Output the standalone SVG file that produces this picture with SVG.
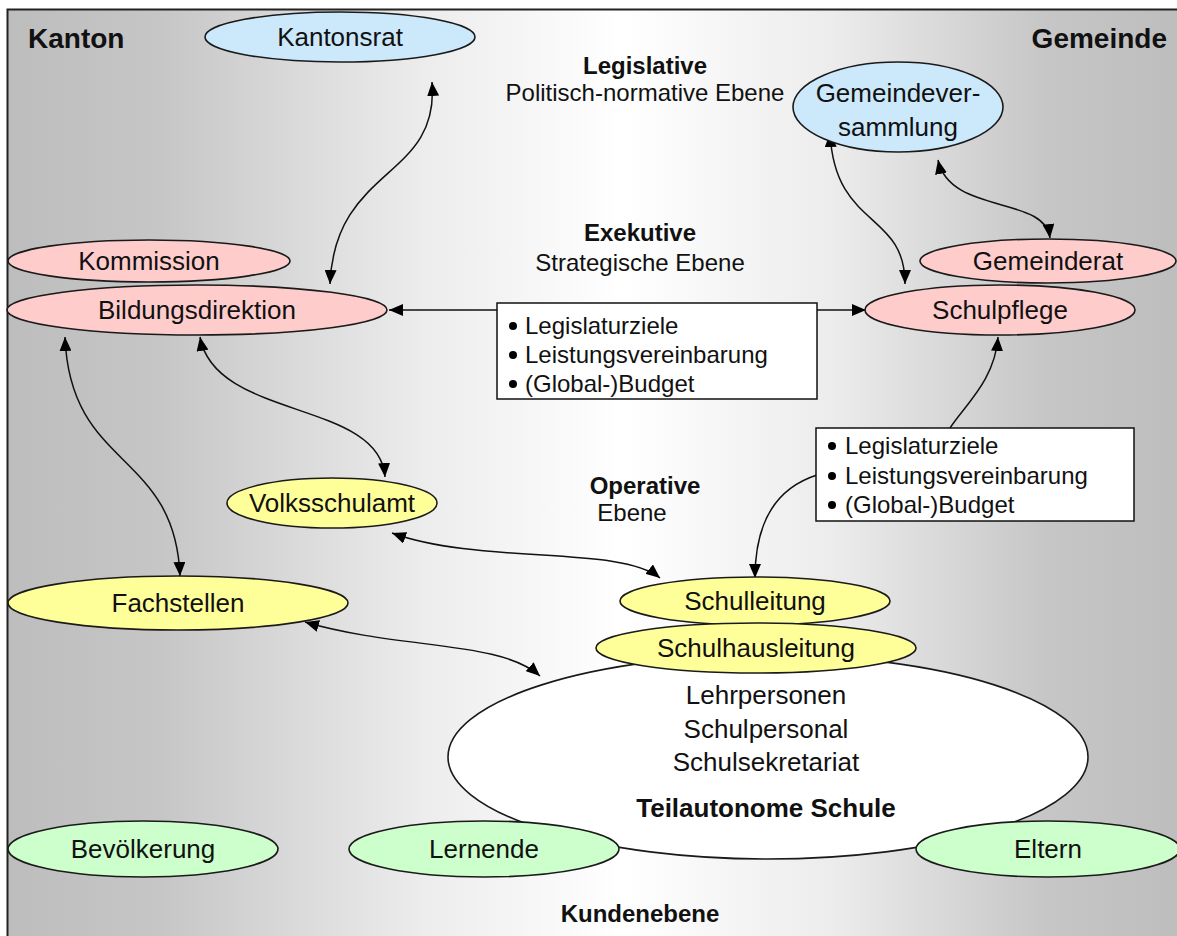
<svg xmlns="http://www.w3.org/2000/svg" width="1177" height="936" viewBox="0 0 1177 936">
<defs>
<linearGradient id="bg" x1="0" y1="0" x2="1" y2="0">
<stop offset="0" stop-color="#bdbdbd"/>
<stop offset="0.13" stop-color="#c6c6c6"/>
<stop offset="0.35" stop-color="#ececec"/>
<stop offset="0.52" stop-color="#ffffff"/>
<stop offset="0.7" stop-color="#ececec"/>
<stop offset="0.88" stop-color="#c6c6c6"/>
<stop offset="1" stop-color="#bdbdbd"/>
</linearGradient>
<marker id="ah" viewBox="0 0 14 12" refX="14" refY="6" markerWidth="14" markerHeight="12" markerUnits="userSpaceOnUse" orient="auto-start-reverse">
<path d="M0,0 L14,6 L0,12 z" fill="#000"/>
</marker>
<style>
.n{stroke:#1a1a1a;stroke-width:1.6}
.blue{fill:#cce8fb}
.pink{fill:#ffcccc}
.yel{fill:#ffff99}
.grn{fill:#ccffcc}
.wht{fill:#ffffff}
.t{font-family:"Liberation Sans",Arial,sans-serif;font-size:26px;fill:#111;text-anchor:middle;dominant-baseline:central}
.lv{font-family:"Liberation Sans",Arial,sans-serif;font-size:24px;fill:#111;text-anchor:middle;dominant-baseline:central}
.b{font-weight:bold}
.big{font-family:"Liberation Sans",Arial,sans-serif;font-size:28px;font-weight:bold;fill:#111;dominant-baseline:central}
.bl{font-family:"Liberation Sans",Arial,sans-serif;font-size:24px;fill:#111;dominant-baseline:central}
.c{fill:none;stroke:#111;stroke-width:1.5}
.box{fill:#fff;stroke:#111;stroke-width:1.5}
</style>
</defs>
<rect x="7.5" y="9.5" width="1180" height="940" fill="url(#bg)" stroke="#222" stroke-width="2"/>
<text class="big" x="28" y="38">Kanton</text>
<text class="big" x="1167" y="38" text-anchor="end">Gemeinde</text>
<text class="lv b" x="645" y="65">Legislative</text>
<text class="lv" x="645" y="92">Politisch-normative Ebene</text>
<text class="lv b" x="640" y="232">Exekutive</text>
<text class="lv" x="640" y="262">Strategische Ebene</text>
<text class="lv b" x="645" y="485">Operative</text>
<text class="lv" x="632" y="512">Ebene</text>
<text class="lv b" x="640" y="913">Kundenebene</text>

<g id="connectors">
<path class="c" d="M432,82 C440,180 335,165 330,284" marker-start="url(#ah)" marker-end="url(#ah)"/>
<path class="c" d="M830,133 C835,230 905,210 905,284" marker-start="url(#ah)" marker-end="url(#ah)"/>
<path class="c" d="M938,160 C950,215 1045,195 1050,238" marker-start="url(#ah)" marker-end="url(#ah)"/>
<path class="c" d="M200,337 C215,420 380,400 385,477" marker-start="url(#ah)" marker-end="url(#ah)"/>
<path class="c" d="M65,337 C70,470 175,450 180,576" marker-start="url(#ah)" marker-end="url(#ah)"/>
<path class="c" d="M392,533 C480,565 620,545 660,578" marker-start="url(#ah)" marker-end="url(#ah)"/>
<path class="c" d="M305,622 C400,650 500,640 540,676" marker-start="url(#ah)" marker-end="url(#ah)"/>
<path class="c" d="M998,337 C995,380 965,405 950,428" marker-start="url(#ah)"/>
<path class="c" d="M817,475 C770,490 755,530 755,578" marker-end="url(#ah)"/>
<path class="c" d="M497,310 L389,310" marker-end="url(#ah)"/>
<path class="c" d="M817,310 L866,310" marker-end="url(#ah)"/>
</g>

<g id="kantonsrat"><ellipse class="n blue" cx="340" cy="37" rx="135" ry="25"/><text class="t" x="340" y="37">Kantonsrat</text></g>
<g id="gemeindeversammlung"><ellipse class="n blue" cx="898" cy="107" rx="105" ry="45"/><text class="t" x="898" y="93">Gemeindever-</text><text class="t" x="898" y="127">sammlung</text></g>
<g id="kommission"><ellipse class="n pink" cx="149" cy="261" rx="141" ry="21"/><text class="t" x="149" y="261">Kommission</text></g>
<g id="bildungsdirektion"><ellipse class="n pink" cx="197" cy="310" rx="190" ry="25"/><text class="t" x="197" y="310">Bildungsdirektion</text></g>
<g id="gemeinderat"><ellipse class="n pink" cx="1048" cy="261" rx="128" ry="22"/><text class="t" x="1048" y="261">Gemeinderat</text></g>
<g id="schulpflege"><ellipse class="n pink" cx="1000" cy="310" rx="135" ry="25"/><text class="t" x="1000" y="310">Schulpflege</text></g>
<g id="box1"><rect class="box" x="497" y="303" width="320" height="96"/>
<circle cx="513" cy="326" r="4" fill="#000"/><circle cx="513" cy="355" r="4" fill="#000"/><circle cx="513" cy="384" r="4" fill="#000"/>
<text class="bl" x="525" y="325">Legislaturziele</text><text class="bl" x="525" y="354">Leistungsvereinbarung</text><text class="bl" x="525" y="383">(Global-)Budget</text></g>
<g id="box2"><rect class="box" x="816" y="428" width="318" height="93"/>
<circle cx="832" cy="446" r="4" fill="#000"/><circle cx="832" cy="476" r="4" fill="#000"/><circle cx="832" cy="505" r="4" fill="#000"/>
<text class="bl" x="845" y="445">Legislaturziele</text><text class="bl" x="845" y="475">Leistungsvereinbarung</text><text class="bl" x="845" y="504">(Global-)Budget</text></g>
<g id="volksschulamt"><ellipse class="n yel" cx="332" cy="503" rx="105" ry="25"/><text class="t" x="332" y="503">Volksschulamt</text></g>
<g id="fachstellen"><ellipse class="n yel" cx="178" cy="603" rx="170" ry="27"/><text class="t" x="178" y="603">Fachstellen</text></g>
<g id="schule"><ellipse class="n wht" cx="768" cy="757" rx="320" ry="102"/>
<text class="t" x="766" y="695">Lehrpersonen</text><text class="t" x="766" y="729">Schulpersonal</text><text class="t" x="766" y="762">Schulsekretariat</text><text class="t b" x="766" y="808">Teilautonome Schule</text></g>
<g id="schulleitung"><ellipse class="n yel" cx="755" cy="601" rx="135" ry="24"/><text class="t" x="755" y="601">Schulleitung</text></g>
<g id="schulhausleitung"><ellipse class="n yel" cx="756" cy="648" rx="160" ry="25"/><text class="t" x="756" y="648">Schulhausleitung</text></g>
<g id="bevoelkerung"><ellipse class="n grn" cx="143" cy="849" rx="135" ry="28"/><text class="t" x="143" y="849">Bevölkerung</text></g>
<g id="lernende"><ellipse class="n grn" cx="484" cy="849" rx="135" ry="28"/><text class="t" x="484" y="849">Lernende</text></g>
<g id="eltern"><ellipse class="n grn" cx="1048" cy="849" rx="132" ry="28"/><text class="t" x="1048" y="849">Eltern</text></g>
</svg>
